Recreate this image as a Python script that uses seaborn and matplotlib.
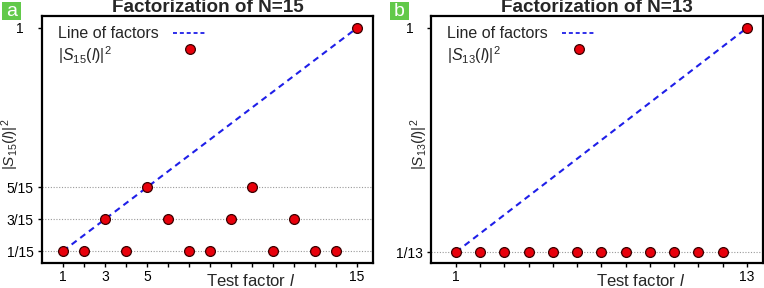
import matplotlib
matplotlib.use("Agg")
import matplotlib.pyplot as plt
import matplotlib.patches as mpatches
from matplotlib.lines import Line2D
from matplotlib.transforms import ScaledTranslation
import seaborn as sns
import pandas as pd

# ---------------- data ----------------
factors_a = [1, 2, 3, 4, 5, 6, 7, 8, 9, 10, 11, 12, 13, 14, 15]
values_a = [1/15, 1/15, 3/15, 1/15, 5/15, 3/15, 1/15, 1/15, 3/15, 5/15,
            1/15, 3/15, 1/15, 1/15, 1.0]
line_x_a = [1, 15]
line_y_a = [1/15, 1.0]
xticklabels_a = ['1', '', '3', '', '5', '', '', '', '', '', '', '', '', '', '15']
yticks_a = [1/15, 3/15, 5/15, 1.0]
yticklabels_a = ['1/15', '3/15', '5/15', '1']
grid_a = [1/15, 3/15, 5/15]

factors_b = [1, 2, 3, 4, 5, 6, 7, 8, 9, 10, 11, 12, 13]
values_b = [1/13, 1/13, 1/13, 1/13, 1/13, 1/13, 1/13, 1/13, 1/13, 1/13,
            1/13, 1/13, 1.0]
line_x_b = [1, 13]
line_y_b = [1/13, 1.0]
xticklabels_b = ['1', '', '', '', '', '', '', '', '', '', '', '', '13']
yticks_b = [1/13, 1.0]
yticklabels_b = ['1/13', '1']
grid_b = [1/13]

titles = ['Factorization of N=15', 'Factorization of N=13']
ylabels = [r'$|S_{\mathit{15}}(l)|^2$', r'$|S_{\mathit{13}}(l)|^2$']
legend_labels = ['Line of factors']
panel_letters = ['a', 'b']

# ---------------- style ----------------
sns.set_theme(style='ticks')
plt.rcParams['font.family'] = ['Liberation Sans', 'DejaVu Sans']
plt.rcParams['mathtext.fontset'] = 'custom'
plt.rcParams['mathtext.rm'] = 'Liberation Sans'
plt.rcParams['mathtext.it'] = 'Liberation Sans:italic'
plt.rcParams['mathtext.bf'] = 'Liberation Sans:bold'

LINE_COLOR = '#1f1fe8'
PT_FACE = '#e8000b'
PT_EDGE = '#3a0000'
GREEN = '#62c94a'

fig = plt.figure(figsize=(7.64, 2.88), dpi=100)
W, H = 764, 288
ax_a = fig.add_axes([42 / W, 25 / H, 331 / W, 247 / H])
ax_b = fig.add_axes([431 / W, 25 / H, 332 / W, 247 / H])

panels = [
    (ax_a, factors_a, values_a, line_x_a, line_y_a, xticklabels_a, yticks_a,
     yticklabels_a, grid_a, (0, 15.76), (1/15 - 0.05, 1.05), 12.8, -0.062),
    (ax_b, factors_b, values_b, line_x_b, line_y_b, xticklabels_b, yticks_b,
     yticklabels_b, grid_b, (-0.03, 13.66), (1/13 - 0.045, 1.049), 12.2, -0.004),
]

renderer = fig.canvas.get_renderer()

for i, (ax, fx, fy, lx, ly, xtl, yt, ytl, grid, xlim, ylim, ypad, ylx) in enumerate(panels):
    for g in grid:
        ax.axhline(g, color='#9a9a9a', lw=0.8, ls=(0, (1, 1.5)), zorder=0)
    df_line = pd.DataFrame({'x': lx, 'y': ly})
    sns.lineplot(data=df_line, x='x', y='y', ax=ax, color=LINE_COLOR, lw=1.5,
                 dashes=False, zorder=2)
    ax.lines[-1].set_linestyle((0, (3.0, 2.2)))
    df_pts = pd.DataFrame({'l': fx, 's': fy})
    sns.scatterplot(data=df_pts, x='l', y='s', ax=ax, color=PT_FACE,
                    edgecolor=PT_EDGE, linewidth=0.9, s=50, zorder=3)

    ax.set_xlim(*xlim)
    ax.set_ylim(*ylim)
    ax.set_xticks(fx)
    ax.set_xticklabels(xtl)
    ax.set_yticks(yt)
    ax.set_yticklabels(ytl, ha='center')
    ax.tick_params(axis='x', direction='out', length=3, width=1, pad=2,
                   labelsize=10, colors='black')
    ax.tick_params(axis='y', direction='out', length=3, width=1, pad=ypad,
                   labelsize=10, colors='black')
    for sp in ax.spines.values():
        sp.set_visible(True)
        sp.set_linewidth(1.6)
        sp.set_color('black')

    ax.set_title(titles[i], fontsize=13.6, fontweight='bold', pad=2.0)
    ax.set_xlabel('Test factor $l$', fontsize=12)
    ax.xaxis.set_label_coords(0.63, -0.04)
    ax.set_ylabel(ylabels[i], fontsize=11)
    ax.yaxis.set_label_coords(ylx, 0.48)

    handles = [
        Line2D([], [], color=LINE_COLOR, lw=1.3, ls=(0, (2.2, 1.6))),
        Line2D([], [], ls='none', marker='o', markersize=7,
               markerfacecolor=PT_FACE, markeredgecolor=PT_EDGE,
               markeredgewidth=0.9),
    ]
    textpad = 0.9
    fsize = 11.5
    leg = ax.legend(handles, legend_labels + [ylabels[i]], loc='upper left',
                    bbox_to_anchor=(0.025, 0.99), frameon=False, markerfirst=False,
                    fontsize=fsize, handlelength=2.1, handletextpad=textpad,
                    labelspacing=0.15, borderaxespad=0.3, borderpad=0.2)
    # left-align the labels while keeping the handles in one column
    widths = [t.get_window_extent(renderer).width for t in leg.get_texts()]
    wmax = max(widths)
    for col in leg._legend_handle_box.get_children():
        col.align = 'left'
        for row, w in zip(col.get_children(), widths):
            row.sep = textpad * fsize + (wmax - w) * 72.0 / fig.dpi
    # lift the marker handle to the visual centre of its label
    mh = leg.legend_handles[1]
    mh.set_transform(mh.get_transform() +
                     ScaledTranslation(0, 5.5 / 100, fig.dpi_scale_trans))

# panel letters
for letter, x0 in zip(panel_letters, [2, 390]):
    fig.patches.append(mpatches.Rectangle((x0 / W, 1 - 19.5 / H), 18.5 / W, 17.5 / H,
                                          transform=fig.transFigure,
                                          facecolor=GREEN, edgecolor='none'))
    fig.text((x0 + 9.2) / W, 1 - 11 / H, letter, ha='center', va='center',
             color='white', fontsize=14)

fig.savefig('out.png', dpi=100)
